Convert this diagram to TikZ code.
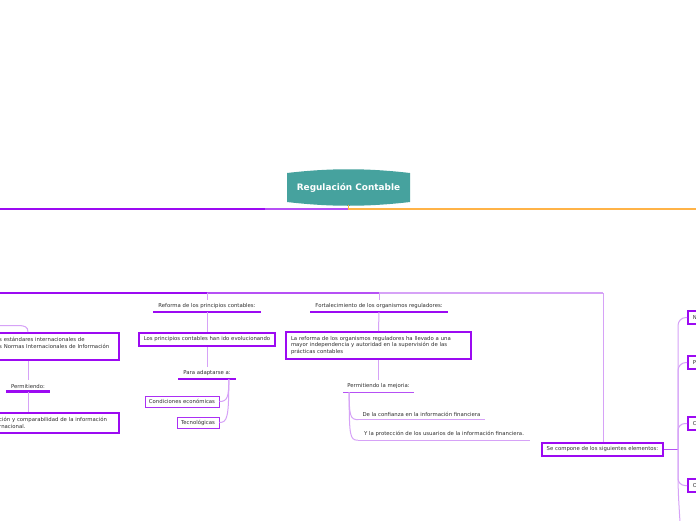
\documentclass[tikz,border=0pt]{standalone}
\usepackage{fontspec}
\setmainfont{DejaVu Sans}
\definecolor{teal1}{HTML}{46A29E}
\definecolor{pdark}{HTML}{9C0AF2}
\definecolor{pmid}{HTML}{B650F5}
\definecolor{plight}{HTML}{D6A2F7}
\definecolor{orng}{HTML}{FFB347}
\definecolor{txt}{HTML}{2E2E2E}
\tikzset{
  lbl/.style={font=\fontsize{5.35}{6.5}\selectfont, text=txt, inner sep=0pt},
  head/.style={lbl, inner xsep=5pt, inner ysep=3.3pt},
  box/.style={lbl, draw=pdark, line width=1.6pt, fill=white, inner xsep=5pt, inner ysep=3pt},
  sbox/.style={lbl, draw=pdark!85, line width=0.9pt, fill=white, inner xsep=4pt, inner ysep=2pt},
  bar/.style={pdark, line width=2.6pt},
  thinbar/.style={pmid, line width=1.1pt},
  conn/.style={plight, line width=1pt},
}
\begin{document}
\begin{tikzpicture}[x=1pt,y=-1pt]
\useasboundingbox (0,0) rectangle (696,520);
\fill[white] (0,0) rectangle (696,520);

% root
\fill[teal1] (287,173) .. controls (330,168) and (367,168) .. (410,173)
  -- (410,202) .. controls (367,207) and (330,207) .. (287,202) -- cycle;
\node[font=\bfseries\fontsize{8.9}{10}\selectfont, text=white, minimum width=123pt,
  minimum height=34pt, inner sep=0pt] (root) at (348.5,187.5) {Regulación Contable};

\coordinate (rootfoot) at (348.5,209);
\coordinate (hubL) at (0,209);
\coordinate (hubM) at (265,209);
\coordinate (hubR) at (696,209);
\draw[pdark, line width=1.1pt] (hubL) -- (hubM);
\draw[pmid, line width=1.1pt] (hubM) -- (rootfoot);
\draw[orng, line width=1.1pt] (root.south) -- (rootfoot) -- (hubR);

% level line
\coordinate (l2L) at (0,293);
\coordinate (j1) at (207,293);
\coordinate (j2) at (379,293);
\coordinate (j3) at (603,293);
\draw[pdark, line width=1.1pt] (l2L) -- (j1);
\draw[pmid, line width=1.1pt] (j1) -- (j2);
\draw[plight, line width=1.1pt] (j2) -- (j3);

% column 1
\node[head] (h1) at (207,306) {Reforma de los principios contables:};
\draw[conn] (j1) -- (h1.north);
\draw[bar] (h1.south west) -- (h1.south east);
\node[box, minimum height=13pt] (b1) at (207,339.5) {Los principios contables han ido evolucionando};
\draw[conn] (h1.south) -- (b1.north);
\node[head] (h2) at (207,373) {Para adaptarse a:};
\draw[conn] (b1.south) -- (h2.north);
\draw[bar] (h2.south west) -- (h2.south east);
\node[sbox, minimum height=11pt] (c1) at (182,401.5) {Condiciones económicas};
\node[sbox, minimum height=11pt] (c2) at (198,422.5) {Tecnológicas};
\coordinate (h2f) at ([xshift=-7pt]h2.south east);
\draw[conn] (h2f) .. controls +(0,18) and +(8,0) .. (c1.east);
\draw[conn] (h2f) .. controls +(0,38) and +(8,0) .. (c2.east);

% column 2
\node[head] (h3) at (379,306) {Fortalecimiento de los organismos reguladores:};
\draw[conn] (j2) -- (h3.north);
\draw[bar] (h3.south west) -- (h3.south east);
\node[box, minimum height=27pt, text width=175pt, align=left] (b2) at (378.5,345.5)
  {La reforma de los organismos reguladores ha llevado a una\\mayor independencia y autoridad en la supervisión de las\\prácticas contables};
\draw[conn] (h3.south) -- (b2.north);
\node[head, inner xsep=4pt] (h4) at (378.5,386) {Permitiendo la mejoria:};
\draw[conn] (b2.south) -- (h4.north);
\draw[thinbar] (h4.south west) -- (h4.south east);
\node[head, inner xsep=4pt] (d1) at (421.5,414) {De la confianza en la información financiera};
\draw[conn] (d1.south west) -- (d1.south east);
\node[head, inner xsep=6pt] (d2) at (444,434) {Y la protección de los usuarios de la información financiera.};
\draw[conn] (d2.south west) -- (d2.south east);
\coordinate (h4f) at ([xshift=6pt]h4.south west);
\draw[conn] (h4f) .. controls +(0,24) and +(-8,0) .. (d1.south west);
\draw[conn] (h4f) .. controls +(0,44) and +(-8,0) .. (d2.south west);

% column 3 (left, cut)
\coordinate (c3) at (28,0);
\coordinate (inL) at (0,325.5);
\node[box, anchor=north east, minimum height=27pt, text width=115pt, align=left] (b3) at (120,332)
  {s estándares internacionales de\\s Normas Internacionales de Información\\\mbox{}};
\draw[conn] (inL) -- (18,325.5) .. controls (25,325.5) and (28,327) .. (b3.north -| c3);
\node[head] (h5) at (28,386) {Permitiendo:};
\draw[conn] (b3.south -| c3) -- (h5.north);
\draw[bar] (h5.south west) -- (h5.south east);
\node[box, anchor=north east, minimum height=20pt, text width=115pt, align=left] (b4) at (120,412)
  {ción y comparabilidad de la información\\rnacional.};
\draw[conn] (h5.south) -- (b4.north -| c3);

% column 4
\node[box, minimum height=13pt] (b5) at (602.5,449.5) {Se compone de los siguientes elementos:};
\draw[conn] (j3) -- (b5.north -| j3);
\coordinate (fork) at (678,449.5);
\draw[pmid, line width=1.1pt] (b5.east) -- (fork);
\node[box, anchor=west, text width=20pt, align=left, minimum height=13pt] (e1) at (687,317.5) {N};
\node[box, anchor=west, text width=20pt, align=left, minimum height=13pt] (e2) at (687,362.5) {P};
\node[box, anchor=west, text width=20pt, align=left, minimum height=13pt] (e3) at (687,423.5) {C};
\node[box, anchor=west, text width=20pt, align=left, minimum height=13pt] (e4) at (687,485.5) {O};
\coordinate (e5) at (680,522);
\draw[conn, rounded corners=8pt] (fork) |- (e1.west);
\draw[conn, rounded corners=8pt] (fork) |- (e2.west);
\draw[conn, rounded corners=7pt] (fork) |- (e3.west);
\draw[conn, rounded corners=7pt] (fork) |- (e4.west);
\draw[conn] (fork) .. controls (678,490) .. (e5);
\end{tikzpicture}
\end{document}
